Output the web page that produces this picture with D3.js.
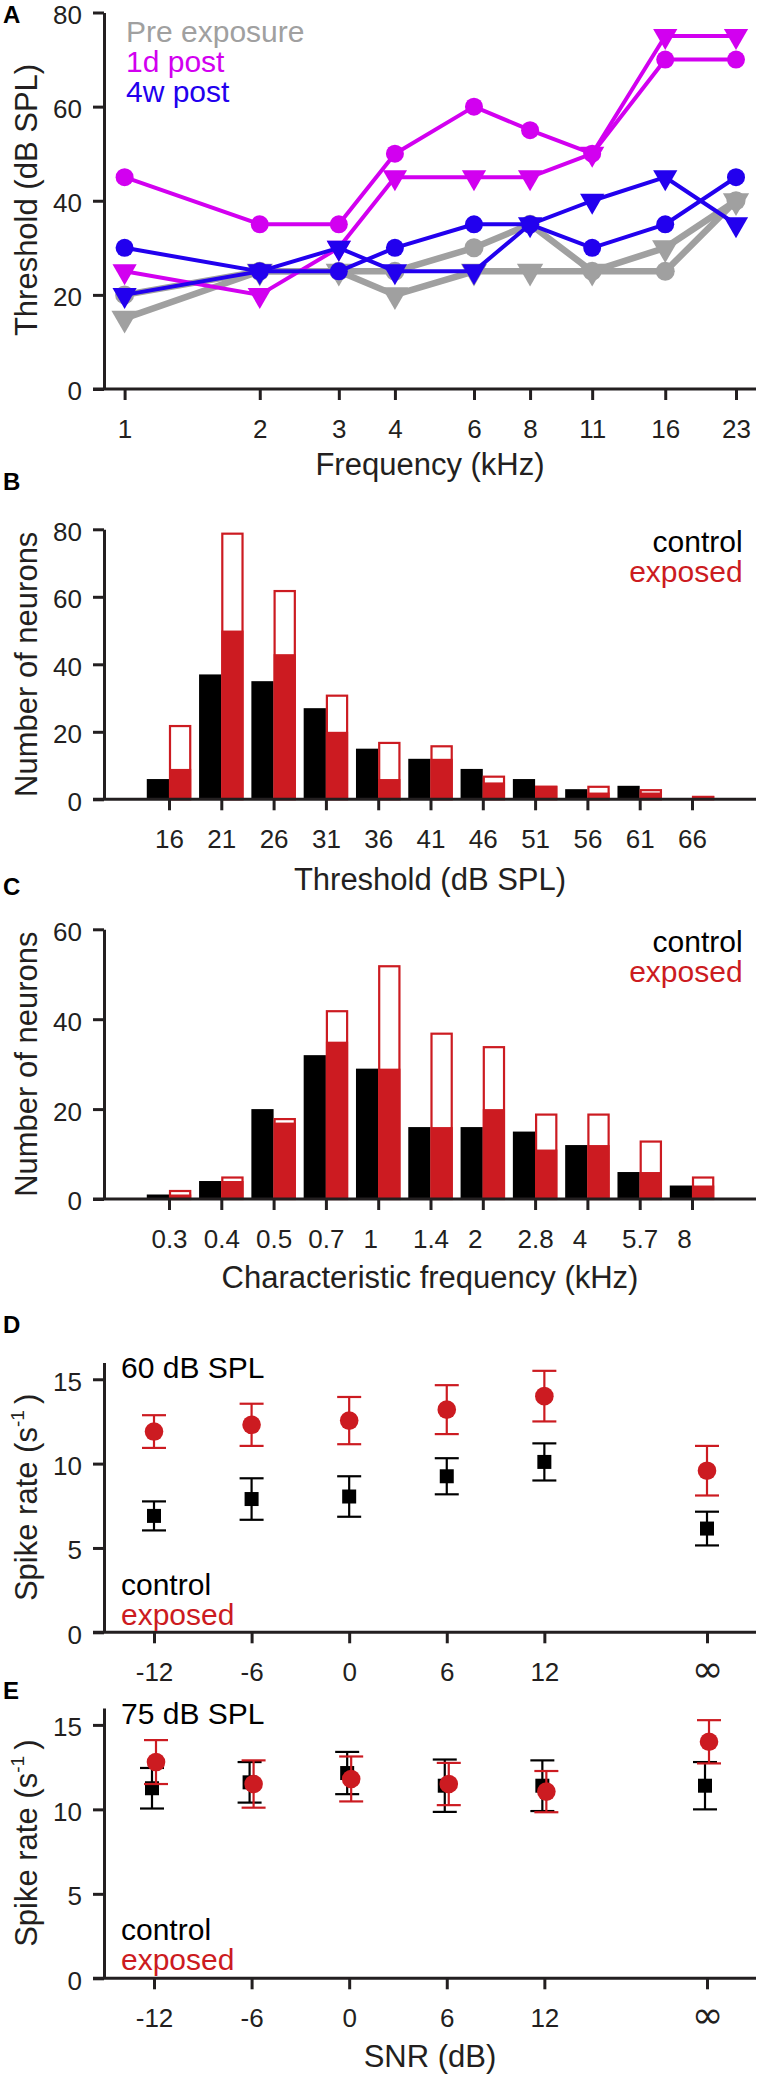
<!DOCTYPE html>
<html><head><meta charset="utf-8">
<script src="https://cdn.jsdelivr.net/npm/d3@7"></script>
<style>body{margin:0;background:#fff}svg{display:block}</style>
</head><body><script>
// ---------- DATA ----------
// Panel A
const freqTicks = [1, 2, 3, 4, 6, 8, 11, 16, 23];
const preCirc = [20, 25, 25, 25, 30, 35, 25, 25, 40];
const preTri  = [15, 25, 25, 20, 25, 25, 25, 30, 40];
const d1Circ  = [45, 35, 35, 50, 60, 55, 50, 70, 70];
const d1Tri   = [25, 20, 30, 45, 45, 45, 50, 75, 75];
const w4Circ  = [30, 25, 25, 30, 35, 35, 30, 35, 45];
const w4Tri   = [20, 25, 30, 25, 25, 35, 40, 45, 35];
const aYTicks = [0, 20, 40, 60, 80];
// Panel B
const thrCats = ['16','21','26','31','36','41','46','51','56','61','66'];
const thrControl = [6, 37, 35, 27, 15, 12, 9, 6, 3, 4, 0];
const thrExposed = [9, 50, 43, 20, 6, 12, 5, 4, 2, 2, 1];
const thrExposedOutline = [22, 79, 62, 31, 17, 16, 7, 4, 4, 3, 1];
const bYTicks = [0, 20, 40, 60, 80];
// Panel C
const cfCats = ['0.3','0.4','0.5','0.7','1','1.4','2','2.8','4','5.7','8'];
const cfControl = [1, 4, 20, 32, 29, 16, 16, 15, 12, 6, 3];
const cfExposed = [1, 4, 17, 35, 29, 16, 20, 11, 12, 6, 3];
const cfExposedOutline = [2, 5, 18, 42, 52, 37, 34, 19, 19, 13, 5];
const cYTicks = [0, 20, 40, 60];
// Panels D/E
const snrLabels = ['-12', '-6', '0', '6', '12', '\u221E'];
const snrPos = [-12, -6, 0, 6, 12, 22];
const d60Control = [6.9, 7.9, 8.05, 9.25, 10.1, 6.15];
const d60ControlErr = [0.86, 1.23, 1.2, 1.07, 1.1, 1.0];
const d60Exposed = [11.9, 12.3, 12.55, 13.2, 14.0, 9.58];
const d60ExposedErr = [0.97, 1.25, 1.4, 1.45, 1.5, 1.47];
const d75Control = [11.25, 11.6, 12.15, 11.4, 11.4, 11.4];
const d75ControlErr = [1.2, 1.2, 1.25, 1.55, 1.5, 1.4];
const d75Exposed = [12.8, 11.5, 11.8, 11.5, 11.05, 14.0];
const d75ExposedErr = [1.3, 1.4, 1.33, 1.25, 1.22, 1.28];
const deYTicks = [0, 5, 10, 15];

// ---------- STYLE ----------
const W = 758, H = 2078;
const FONT = "'Liberation Sans', Arial, Helvetica, sans-serif";
const AXC = '#231f20';
const GRAY = '#a0a0a0', MAG = '#d200f0', BLUE = '#2200ee', RED = '#cc1b21';
const TICK_FS = 26, TITLE_FS = 31, LEG_FS = 30;
const AXL = 93, AXX = 104, AXR = 756, TL = 11;

const svg = d3.select('body').append('svg').attr('width', W).attr('height', H)
  .style('font-family', FONT);

function yAxis(y, ticks) {
  const g = svg.append('g').attr('transform', `translate(${AXX},0)`)
    .call(d3.axisLeft(y).tickValues(ticks).tickSize(TL).tickSizeOuter(0));
  g.attr('font-family', FONT).attr('font-size', TICK_FS);
  g.select('.domain').attr('stroke', AXC).attr('stroke-width', 3);
  g.selectAll('.tick line').attr('stroke', AXC).attr('stroke-width', 3);
  g.selectAll('.tick text').attr('x', -(TL + 11)).attr('dy', '0.42em').attr('fill', AXC);
  return g;
}
function xAxis(x, y0, ticks, fmt) {
  svg.append('line').attr('x1', AXL).attr('x2', AXR).attr('y1', y0).attr('y2', y0)
    .attr('stroke', AXC).attr('stroke-width', 3);
  const ax = d3.axisBottom(x).tickSize(TL).tickSizeOuter(0);
  if (ticks) ax.tickValues(ticks);
  if (fmt) ax.tickFormat(fmt);
  const g = svg.append('g').attr('transform', `translate(0,${y0})`).call(ax);
  g.attr('font-family', FONT).attr('font-size', TICK_FS);
  g.select('.domain').remove();
  g.selectAll('.tick line').attr('stroke', AXC).attr('stroke-width', 3);
  g.selectAll('.tick text').attr('y', 49).attr('dy', 0).attr('fill', AXC);
  return g;
}
function yTitle(text, cy, sup) {
  const t = svg.append('text').attr('transform', `translate(37,${cy}) rotate(-90)`)
    .attr('text-anchor', 'middle').attr('font-size', TITLE_FS).attr('fill', AXC);
  if (!sup) { t.text(text); return; }
  t.append('tspan').text(text);
  t.append('tspan').attr('font-size', 19).attr('dy', -13).text(sup);
  t.append('tspan').attr('dy', 13).text('\u2009)');
}
function xTitle(text, yb) {
  svg.append('text').attr('x', 430).attr('y', yb).attr('text-anchor', 'middle')
    .attr('font-size', TITLE_FS).attr('fill', AXC).text(text);
}
function letter(t, yb) {
  svg.append('text').attr('x', 3).attr('y', yb).attr('font-size', 24)
    .attr('font-weight', 'bold').attr('fill', '#000').text(t);
}
function legend(items, x, y0, anchor) {
  items.forEach((it, i) => svg.append('text').attr('x', x).attr('y', y0 + i * 30)
    .attr('text-anchor', anchor).attr('font-size', LEG_FS).attr('fill', it[1]).text(it[0]));
}

// ---------- PANEL A ----------
{
  const x = d3.scaleLog().domain([1, 23]).range([124.6, 736]);
  const y = d3.scaleLinear().domain([0, 80]).range([389, 12.5]);
  const tri = (s) => `M${-1.73 * s},${-s}L${1.73 * s},${-s}L0,${2 * s}Z`;
  const series = [
    { v: preCirc, c: GRAY, lw: 6.5, m: 'c', r: 9.5 },
    { v: preTri, c: GRAY, lw: 6.5, m: 't', r: 7.6 },
    { v: d1Circ, c: MAG, lw: 4, m: 'c', r: 9 },
    { v: d1Tri, c: MAG, lw: 4, m: 't', r: 7 },
    { v: w4Circ, c: BLUE, lw: 4, m: 'c', r: 9 },
    { v: w4Tri, c: BLUE, lw: 4, m: 't', r: 7 },
  ];
  const line = d3.line().x((d, i) => x(freqTicks[i])).y(d => y(d));
  series.forEach(s => {
    const g = svg.append('g');
    g.append('path').attr('d', line(s.v)).attr('fill', 'none').attr('stroke', s.c)
      .attr('stroke-width', s.lw).attr('stroke-linejoin', 'round');
    s.v.forEach((d, i) => {
      if (s.m === 'c') g.append('circle').attr('cx', x(freqTicks[i])).attr('cy', y(d)).attr('r', s.r).attr('fill', s.c);
      else g.append('path').attr('transform', `translate(${x(freqTicks[i])},${y(d)})`).attr('d', tri(s.r)).attr('fill', s.c);
    });
  });
  yAxis(y, aYTicks);
  xAxis(x, y(0), freqTicks, d3.format('d'));
  yTitle('Threshold (dB SPL)', 200);
  xTitle('Frequency (kHz)', 475);
  legend([['Pre exposure', GRAY], ['1d post', MAG], ['4w post', BLUE]], 126, 42, 'start');
  letter('A', 22.5);
}

// ---------- BAR PANELS ----------
function barPanel(cats, ctrl, exp, outline, yMax, yTicks, yTop, yBot, title, titleY, letterY, letterT, legY, intShift) {
  const x = d3.scalePoint().domain(cats).range([169, 692]);
  const y = d3.scaleLinear().domain([0, yMax]).range([yBot, yTop]);
  const bw = x.step() * 0.425;
  const g = svg.append('g');
  g.selectAll('.ctrl').data(ctrl).join('rect')
    .attr('x', (d, i) => x(cats[i]) - bw).attr('width', bw)
    .attr('y', d => y(d)).attr('height', d => y(0) - y(d)).attr('fill', '#000');
  g.selectAll('.outl').data(outline).join('rect')
    .attr('x', (d, i) => x(cats[i]) + 1).attr('width', bw - 2)
    .attr('y', d => y(d) + 1).attr('height', d => Math.max(0, y(0) - y(d) - 1))
    .attr('fill', '#fff').attr('stroke', RED).attr('stroke-width', 2.2);
  g.selectAll('.exp').data(exp).join('rect')
    .attr('x', (d, i) => x(cats[i])).attr('width', bw)
    .attr('y', d => y(d)).attr('height', d => y(0) - y(d)).attr('fill', RED);
  yAxis(y, yTicks);
  const xa = xAxis(x, y(0));
  if (intShift) xa.selectAll('.tick text').attr('dx', d => d.indexOf('.') < 0 ? -8 : 0);
  yTitle('Number of neurons', (yTop + yBot) / 2);
  xTitle(title, titleY);
  legend([['control', '#000'], ['exposed', RED]], 742.6, legY, 'end');
  letter(letterT, letterY);
}
barPanel(thrCats, thrControl, thrExposed, thrExposedOutline, 80, bYTicks, 529.3, 799.3,
  'Threshold (dB SPL)', 890, 490, 'B', 551.7, false);
barPanel(cfCats, cfControl, cfExposed, cfExposedOutline, 60, cYTicks, 929.3, 1199,
  'Characteristic frequency (kHz)', 1288, 895, 'C', 951.7, true);

// ---------- SPIKE RATE PANELS ----------
function ratePanel(ctrl, ctrlErr, exp, expErr, yTop, yBot, level, letterY, letterT, legY, jit, showTitle) {
  const x = d3.scaleLinear().domain([-12, 22]).range([154, 707]);
  const y = d3.scaleLinear().domain([0, 16]).range([yBot, yTop]);
  const cap = 12;
  function errs(vals, errv, col, dx) {
    const g = svg.append('g').attr('stroke', col).attr('stroke-width', 2.2);
    vals.forEach((v, i) => {
      const cx = x(snrPos[i]) + dx;
      g.append('line').attr('x1', cx).attr('x2', cx).attr('y1', y(v - errv[i])).attr('y2', y(v + errv[i]));
      g.append('line').attr('x1', cx - cap).attr('x2', cx + cap).attr('y1', y(v - errv[i])).attr('y2', y(v - errv[i]));
      g.append('line').attr('x1', cx - cap).attr('x2', cx + cap).attr('y1', y(v + errv[i])).attr('y2', y(v + errv[i]));
    });
  }
  errs(ctrl, ctrlErr, '#000', -jit);
  svg.append('g').selectAll('rect').data(ctrl).join('rect')
    .attr('x', (d, i) => x(snrPos[i]) - jit - 7).attr('y', d => y(d) - 7)
    .attr('width', 14).attr('height', 14).attr('fill', '#000');
  errs(exp, expErr, RED, jit);
  svg.append('g').selectAll('circle').data(exp).join('circle')
    .attr('cx', (d, i) => x(snrPos[i]) + jit).attr('cy', d => y(d)).attr('r', 9.3).attr('fill', RED);
  yAxis(y, deYTicks);
  const xa = xAxis(x, y(0), snrPos, (d) => snrLabels[snrPos.indexOf(d)]);
  xa.selectAll('.tick text').filter(d => d === 22)
    .attr('font-family', "'DejaVu Sans', sans-serif").attr('font-size', 38).attr('y', 50);
  yTitle('Spike rate (s', (yTop + yBot) / 2, '-1');
  if (showTitle) xTitle('SNR (dB)', y(0) + 88.5);
  svg.append('text').attr('x', 121).attr('y', y(16) + 16).attr('font-size', LEG_FS)
    .attr('fill', '#000').text(level);
  legend([['control', '#000'], ['exposed', RED]], 121, legY, 'start');
  letter(letterT, letterY);
}
ratePanel(d60Control, d60ControlErr, d60Exposed, d60ExposedErr, 1362.4, 1632.3, '60 dB SPL', 1333, 'D', 1595, 0, false);
ratePanel(d75Control, d75ControlErr, d75Exposed, d75ExposedErr, 1708, 1978.3, '75 dB SPL', 1699, 'E', 1940, 2, true);
</script></body></html>
